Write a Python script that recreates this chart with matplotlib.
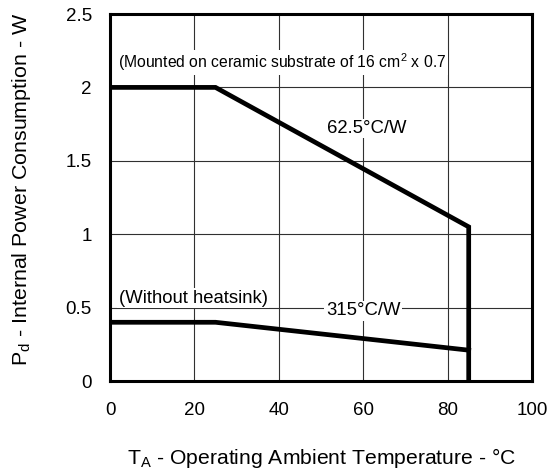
import matplotlib
matplotlib.use("Agg")
import matplotlib.pyplot as plt

# Data
temp_heatsink = [0, 25, 85, 85]
power_heatsink = [2.0, 2.0, 1.05, 0.0]
temp_noheat = [0, 25, 85]
power_noheat = [0.4, 0.4, 0.21]
x_ticks = [0, 20, 40, 60, 80, 100]
y_ticks = [0, 0.5, 1, 1.5, 2, 2.5]
y_tick_labels = ["0", "0.5", "1", "1.5", "2", "2.5"]

plt.rcParams['font.family'] = ['Liberation Sans', 'DejaVu Sans']
plt.rcParams['mathtext.fontset'] = 'custom'
plt.rcParams['mathtext.rm'] = 'Liberation Sans'

fig = plt.figure(figsize=(5.59, 4.74), dpi=100)
ax = fig.add_axes([110/559, 93/474, (532-110)/559, (381-14)/474])

ax.set_xlim(0, 100)
ax.set_ylim(0, 2.5)
ax.set_xticks(x_ticks)
ax.set_yticks(y_ticks)
ax.set_yticklabels(y_tick_labels)
ax.tick_params(axis='x', length=0, labelsize=13.5, pad=15)
ax.tick_params(axis='y', length=0, labelsize=13.5, pad=13)
ax.grid(True, color='#303030', linewidth=0.8)
ax.set_axisbelow(True)
for s in ax.spines.values():
    s.set_linewidth(2.2)
    s.set_color('black')

ax.plot(temp_heatsink, power_heatsink, color='black', linewidth=3.4,
        solid_joinstyle='miter', zorder=3)
ax.plot(temp_noheat, power_noheat, color='black', linewidth=3.4,
        solid_joinstyle='miter', zorder=3)

bbox = dict(facecolor='white', edgecolor='none', pad=1)
ax.text(1.9, 2.17, "(Mounted on ceramic substrate of 16 cm$^\\mathregular{2}$ x 0.7", fontsize=11.3,
        va='center', ha='left', bbox=bbox, zorder=4)
ax.text(51.4, 1.72, "62.5°C/W", fontsize=13.3, va='center', ha='left',
        bbox=bbox, zorder=4)
ax.text(2.1, 0.565, "(Without heatsink)", fontsize=13.3, va='center', ha='left',
        bbox=bbox, zorder=4)
ax.text(60, 0.477, "315°C/W", fontsize=13.3, va='center', ha='center',
        bbox=bbox, zorder=4)

ax.set_xlabel("T$_{\\mathregular{A}}$ - Operating Ambient Temperature - °C", fontsize=15.2)
ax.set_ylabel("P$_{\\mathregular{d}}$ - Internal Power Consumption - W", fontsize=15.4)
ax.xaxis.set_label_coords(0.502, -0.178)
ax.yaxis.set_label_coords(-0.182, 0.523)

fig.savefig("out.png", dpi=100)
